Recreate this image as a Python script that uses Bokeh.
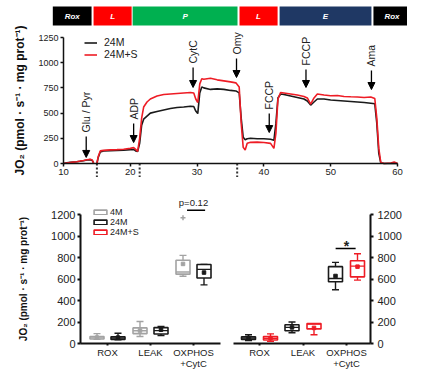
import math
from bokeh.plotting import figure
from bokeh.models import (Range1d, FixedTicker, ColumnDataSource, Arrow,
                          NormalHead, Legend, LegendItem)
from bokeh.layouts import column, row
from bokeh.embed import file_html
from bokeh.resources import INLINE
from bokeh.core.properties import value

FONT = "Liberation Sans"
NAN = float("nan")

# ---------------- data: protocol stages ----------------
stage_names = ["Rox", "L", "P", "L", "E", "Rox"]
stage_start = [8.4, 14.5, 20.35, 36.35, 42.35, 56.4]
stage_end = [14.2, 20.2, 36.05, 42.05, 56.1, 61.95]

# ---------------- data: O2 flux traces ----------------
time_a = [10.0, 10.5, 11.0, 11.5, 12.0, 12.5, 13.0, 13.5, 14.0, 14.3, 14.5]
m24_a = [0, 8, 12, 15, 18, 22, 28, 35, 38, 30, 5]
m24s_a = [0, 5, 10, 14, 18, 25, 30, 38, 42, 35, 5]

time_b = [15.0, 15.2, 15.5, 16.0, 17.0, 18.0, 19.0, 20.0, 20.5, 20.8,
          21.1, 21.4, 21.7, 22.0, 22.5, 23.0, 24.0, 25.0, 26.0, 27.0,
          28.0, 29.0, 29.5, 29.8, 30.1, 30.4, 30.7, 31.0, 32.0, 33.0,
          34.0, 35.0, 35.8, 36.3, 36.6, 36.9, 37.2, 37.5, 38.0, 39.0,
          40.0, 41.0, 41.5, 41.8, 42.1, 42.5, 43.0, 44.0, 45.0, 46.0,
          46.5, 47.0, 47.5, 48.0, 49.0, 50.0, 51.0, 52.0, 53.0, 54.0,
          55.0, 56.0, 56.6, 56.9, 57.2, 57.5, 58.0, 59.0, 59.5, 60.0]
m24_b = [0, 60, 115, 125, 128, 130, 132, 138, 140, 125,
         118, 200, 380, 440, 470, 500, 515, 530, 545, 555,
         560, 568, 565, 520, 495, 700, 760, 750, 735, 740,
         735, 725, 720, 700, 450, 260, 235, 245, 250, 245,
         245, 240, 230, 400, 650, 690, 685, 670, 655, 640,
         620, 580, 610, 640, 640, 630, 625, 620, 615, 610,
         605, 598, 592, 400, 100, 5, 0, 0, 0, 0]
m24s_b = [0, 70, 125, 130, 135, 138, 142, 150, 158, 140,
          120, 250, 450, 560, 610, 640, 670, 685, 690, 695,
          700, 705, 700, 640, 605, 790, 840, 835, 845, 830,
          820, 810, 800, 760, 400, 160, 135, 200, 210, 212,
          208, 200, 150, 300, 640, 705, 700, 690, 680, 665,
          650, 590, 650, 690, 680, 672, 675, 665, 662, 660,
          655, 660, 645, 450, 150, 10, 0, 5, 15, 0]

# injections
inj_time = [13.4, 20.5, 29.4, 35.9, 40.8, 46.3, 56.1]
inj_label = ["Glu / Pyr", "ADP", "CytC", "Omy", "FCCP", "FCCP", "Ama"]
inj_top = [268, 397, 952, 1042, 496, 933, 923]
inj_tip = [60, 208, 754, 853, 307, 754, 734]
gap_time = [15.0, 21.4, 36.0]

x_ticks_top = [10, 20, 30, 40, 50, 60]
y_ticks_top = [0, 250, 500, 750, 1000, 1250]

# ---------------- data: box plots ----------------
categories = ["ROX", "LEAK", "OXPHOS\n+CytC"]
y_ticks_box = [0, 200, 400, 600, 800, 1000, 1200]

box_4m_left = dict(lo=[40, 65, 625], q1=[42, 92, 645], med=[52, 118, 665],
                   q3=[64, 145, 775], hi=[92, 205, 820], mean=[55, 120, 740])
box_24m_left = dict(lo=[35, 75, 545], q1=[38, 88, 610], med=[50, 120, 690],
                    q3=[62, 148, 735], hi=[95, 158, 735], mean=[55, 128, 660])
box_24m_right = dict(lo=[28, 100, 500], q1=[38, 118, 575], med=[50, 150, 605],
                     q3=[62, 175, 715], hi=[82, 200, 755], mean=[52, 150, 628])
box_24ms_right = dict(lo=[20, 82, 590], q1=[32, 136, 620], med=[48, 182, 720],
                      q3=[64, 185, 770], hi=[90, 185, 835], mean=[50, 145, 715])
outlier_4m_cat = [2]
outlier_4m_val = [1170]

pval_text = ["p=0.12"]
pval_cat = [2]
pval_y = [1240]
star_text = ["*"]
star_cat = [2]
star_y = [884]

# ---------------- styles ----------------
STAGE_COLOR = {"Rox": "#000000", "L": "#ff0000", "P": "#00b050", "E": "#1f3864"}
GREY = "#a3a3a3"
BLACK = "#1a1a1a"
RED = "#ee1c25"
YLABEL = "JO\u2082 (pmol \u00b7 s\u207b\u00b9 \u00b7 mg prot\u207b\u00b9)"


def rng(px_lo, px_hi, px_ref, val_ref, px_per_unit, invert=False):
    if invert:
        return (val_ref - (px_hi - px_ref) / px_per_unit,
                val_ref + (px_ref - px_lo) / px_per_unit)
    return (val_ref + (px_lo - px_ref) / px_per_unit,
            val_ref + (px_hi - px_ref) / px_per_unit)


def make_fig(w, h, xr, yr, **kw):
    p = figure(width=w, height=h, x_range=Range1d(*xr), y_range=Range1d(*yr),
               output_backend="svg", toolbar_location=None, min_border=0, **kw)
    p.outline_line_color = None
    p.grid.visible = False
    p.background_fill_color = "white"
    p.border_fill_color = "white"
    return p


def style_axis(ax, size, lw=1.5):
    ax.major_label_text_font = FONT
    ax.major_label_text_font_size = size
    ax.major_label_text_color = "#222222"
    ax.axis_line_width = lw
    ax.axis_line_color = "#111111"
    ax.major_tick_line_width = lw
    ax.major_tick_line_color = "#111111"
    ax.major_tick_in = 0
    ax.major_tick_out = 3
    ax.minor_tick_line_color = None
    ax.major_label_standoff = 2


# ================= top: trace =================
TOP_H = 177
SX, SY = 6.68, 0.1008
top = make_fig(407, TOP_H, rng(0, 407, 63, 10, SX), rng(0, TOP_H, 163, 0, SY, invert=True))

# stage bar
bar_bottom = (163 - 25) / SY
bar_top = (163 - 6) / SY
stage_src = ColumnDataSource(dict(
    left=stage_start, right=stage_end,
    bottom=[bar_bottom] * len(stage_names), top=[bar_top] * len(stage_names),
    color=[STAGE_COLOR[n] for n in stage_names], name=stage_names,
    xc=[(a + b) / 2 for a, b in zip(stage_start, stage_end)],
    yc=[(bar_bottom + bar_top) / 2] * len(stage_names)))
top.quad(left="left", right="right", bottom="bottom", top="top", color="color",
         line_color=None, source=stage_src)
top.text(x="xc", y="yc", text="name", source=stage_src, text_color="white",
         text_font=value(FONT), text_font_style="bold italic", text_font_size="8px",
         text_align="center", text_baseline="middle")

tt = time_a + [NAN] + time_b
r_black = top.line(tt, m24_a + [NAN] + m24_b, line_color=BLACK, line_width=1.6)
r_red = top.line(tt, m24s_a + [NAN] + m24s_b, line_color=RED, line_width=1.6)

# gaps (dotted lines below axis)
top.segment(x0=gap_time, y0=[0] * len(gap_time), x1=gap_time,
            y1=[-(180 - 163) / SY] * len(gap_time),
            line_color="#333333", line_width=2, line_dash="2 2")

# injection arrows
arr_src = ColumnDataSource(dict(x=inj_time, y0=inj_top, y1=inj_tip))
top.add_layout(Arrow(end=NormalHead(size=7, fill_color="black", line_color="black"),
                     x_start="x", y_start="y0", x_end="x", y_end="y1",
                     line_width=1.3, line_color="black", source=arr_src))
top.text(x=inj_time, y=[v + 4 / SY for v in inj_top], text=inj_label,
         angle=math.pi / 2, text_align="left", text_baseline="middle",
         text_font=value(FONT), text_font_size="10.5px", text_color="#222222")

xa = top.xaxis[0]
xa.fixed_location = 0
xa.bounds = (10, 60)
xa.ticker = FixedTicker(ticks=x_ticks_top)
style_axis(xa, "9.5px")
ya = top.yaxis[0]
ya.fixed_location = 10
ya.bounds = (0, 1250)
ya.ticker = FixedTicker(ticks=y_ticks_top)
style_axis(ya, "9px")
ya.axis_label = YLABEL
ya.axis_label_text_font = FONT
ya.axis_label_text_font_size = "12px"
ya.axis_label_text_font_style = "bold"
ya.axis_label_text_color = "#111111"
ya.axis_label_standoff = 8

leg_top = Legend(items=[LegendItem(label="24M", renderers=[r_black]),
                        LegendItem(label="24M+S", renderers=[r_red])],
                 location=(84, 117), orientation="vertical")
leg_top.label_text_font = FONT
leg_top.label_text_font_size = "10.5px"
leg_top.label_text_color = "#222222"
leg_top.glyph_width = 13
leg_top.glyph_height = 11
leg_top.label_height = 11
leg_top.spacing = 0
leg_top.padding = 0
leg_top.margin = 0
leg_top.label_standoff = 7
leg_top.border_line_color = None
leg_top.background_fill_alpha = 0
top.add_layout(leg_top)


# ================= bottom boxes =================
BOT_Y0, BOT_H = TOP_H, 192
Y0PX, Y1200PX = 343, 214
BY = (Y0PX - Y1200PX) / 1200


def draw_boxes(p, xs, d, color, hw, cw):
    src = ColumnDataSource(dict(x=xs, left=[x - hw for x in xs], right=[x + hw for x in xs],
                                cl=[x - cw for x in xs], cr=[x + cw for x in xs], **d))
    lw = 1.4
    p.segment(x0="x", y0="lo", x1="x", y1="q1", source=src, line_color=color, line_width=lw)
    p.segment(x0="x", y0="q3", x1="x", y1="hi", source=src, line_color=color, line_width=lw)
    p.segment(x0="cl", y0="lo", x1="cr", y1="lo", source=src, line_color=color, line_width=lw)
    p.segment(x0="cl", y0="hi", x1="cr", y1="hi", source=src, line_color=color, line_width=lw)
    r = p.quad(left="left", right="right", bottom="q1", top="q3", source=src,
               fill_color="white", line_color=color, line_width=1.6)
    p.segment(x0="left", y0="med", x1="right", y1="med", source=src, line_color=color, line_width=lw)
    p.scatter(x="x", y="mean", source=src, marker="square", size=3.5, color=color)
    return r


def style_box_x(ax, xbounds):
    ax.fixed_location = 0
    ax.bounds = xbounds
    ax.ticker = FixedTicker(ticks=list(range(len(categories))))
    ax.major_label_overrides = {i: c for i, c in enumerate(categories)}
    style_axis(ax, "9.5px", lw=2)
    ax.major_tick_out = 2
    ax.major_label_standoff = 1
    ax.major_label_text_line_height = 1.0


# ---- left ----
SXL = 43.0
BL_W = 226
bl = make_fig(BL_W, BOT_H, rng(0, BL_W, 107, 0, SXL),
              rng(BOT_Y0, BOT_Y0 + BOT_H, Y0PX, 0, BY, invert=True))
off = 10.5 / SXL
hw, cw = 7 / SXL, 3.5 / SXL
xc = list(range(len(categories)))
r4 = draw_boxes(bl, [x - off for x in xc], box_4m_left, GREY, hw, cw)
r24 = draw_boxes(bl, [x + off for x in xc], box_24m_left, BLACK, hw, cw)
bl.scatter(x=[c - off for c in outlier_4m_cat], y=outlier_4m_val, marker="cross",
           size=5, color=GREY, line_width=1.5)
r24s_dummy = bl.quad(left=[NAN], right=[NAN], bottom=[NAN], top=[NAN], fill_color="white",
                     line_color=RED, line_width=1.6)
bl.text(x=pval_cat, y=pval_y, text=pval_text, text_align="center", text_baseline="bottom",
        text_font=value(FONT), text_font_size="9.5px", text_color="#222222",
        y_offset=-2)
bl.segment(x0=[c - 0.15 for c in pval_cat], y0=pval_y, x1=[c + 0.27 for c in pval_cat],
           y1=pval_y, line_color="black", line_width=1.5)

xl = bl.xaxis[0]
style_box_x(xl, (-27 / SXL, 113 / SXL))
yl = bl.yaxis[0]
yl.fixed_location = -27 / SXL
yl.bounds = (0, 1200)
yl.ticker = FixedTicker(ticks=y_ticks_box)
style_axis(yl, "11px", lw=2)
yl.axis_label = YLABEL
yl.axis_label_text_font = FONT
yl.axis_label_text_font_size = "10px"
yl.axis_label_text_font_style = "bold"
yl.axis_label_text_color = "#111111"
yl.axis_label_standoff = 19

leg_b = Legend(items=[LegendItem(label="4M", renderers=[r4]),
                      LegendItem(label="24M", renderers=[r24]),
                      LegendItem(label="24M+S", renderers=[r24s_dummy])],
               location=(92, 132), orientation="vertical")
leg_b.label_text_font = FONT
leg_b.label_text_font_size = "9px"
leg_b.label_text_color = "#222222"
leg_b.glyph_width = 16
leg_b.glyph_height = 6
leg_b.label_height = 9
leg_b.spacing = 0
leg_b.padding = 0
leg_b.margin = 0
leg_b.label_standoff = 2
leg_b.border_line_color = None
leg_b.background_fill_alpha = 0
bl.add_layout(leg_b)

# ---- right ----
SXR = 43.5
BR_W = 407 - BL_W
br = make_fig(BR_W, BOT_H, rng(BL_W, 407, 259, 0, SXR),
              rng(BOT_Y0, BOT_Y0 + BOT_H, Y0PX, 0, BY, invert=True),
              y_axis_location="right")
offr = 11 / SXR
hwr, cwr = 7 / SXR, 3.5 / SXR
draw_boxes(br, [x - offr for x in xc], box_24m_right, BLACK, hwr, cwr)
draw_boxes(br, [x + offr for x in xc], box_24ms_right, RED, hwr, cwr)
br.text(x=star_cat, y=star_y, text=star_text, text_align="center", text_baseline="bottom",
        text_font=value(FONT), text_font_size="14px", text_font_style="bold",
        text_color="#222222", y_offset=6)
br.segment(x0=[c - 0.25 for c in star_cat], y0=star_y, x1=[c + 0.21 for c in star_cat],
           y1=star_y, line_color="black", line_width=1.5)

xr_ = br.xaxis[0]
style_box_x(xr_, (-26 / SXR, 111 / SXR))
yr_ = br.yaxis[0]
yr_.fixed_location = 111 / SXR
yr_.bounds = (0, 1200)
yr_.ticker = FixedTicker(ticks=y_ticks_box)
style_axis(yr_, "11px", lw=2)
yr_.major_label_standoff = 4

layout = column(top, row(bl, br, spacing=0), spacing=0)
open("out.html", "w").write(file_html(layout, INLINE))
